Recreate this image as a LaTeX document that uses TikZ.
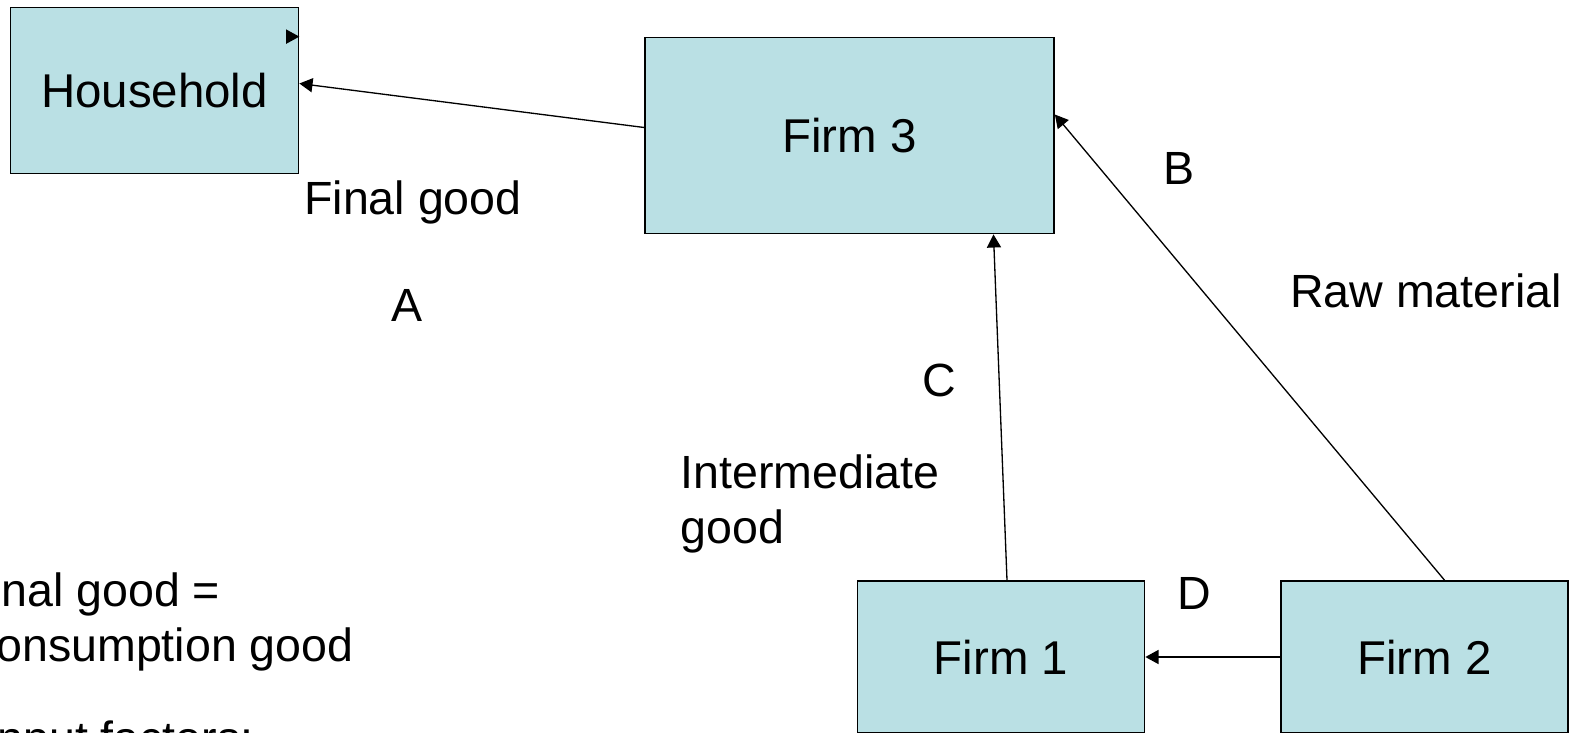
\documentclass[tikz,border=0pt]{standalone}
\usepackage{fontspec}
\setmainfont{Liberation Sans}
\usetikzlibrary{arrows.meta}
\definecolor{boxfill}{RGB}{186,224,228}
\tikzset{
  firmbox/.style={draw=black, line width=1pt, fill=boxfill, inner sep=0pt,
    font=\fontsize{27}{31}\selectfont},
  flow/.style={draw=black, line width=0.75pt,
    -{Triangle[length=7.5pt,width=8pt]}},
  lbl/.style={inner sep=0pt, anchor=base, font=\fontsize{26.5}{31}\selectfont},
  lblw/.style={lbl, anchor=base west, align=left}
}
\begin{document}
\begin{tikzpicture}[x=0.02cm, y=-0.02cm]
  \useasboundingbox (0,0) rectangle (1573,733);
  \clip (0,0) rectangle (1573,733);

  % boxes
  \node[firmbox, minimum width=5.76cm, minimum height=3.32cm] (hh) at (154.5,90.5) {Household};
  \node[firmbox, minimum width=8.18cm, minimum height=3.92cm] (f3) at (849.5,135.5) {Firm 3};
  \node[firmbox, minimum width=5.74cm, minimum height=3.04cm] (f1) at (1001,657) {Firm 1};
  \node[firmbox, minimum width=5.74cm, minimum height=3.04cm] (f2) at (1424.5,657) {Firm 2};

  % flows of goods
  \draw[flow] ([yshift=0.16cm]f3.west) -- ([yshift=0.14cm]hh.east);
  \draw[flow] ([xshift=0.12cm]f1.north) -- ([xshift=2.88cm]f3.south);
  \draw[flow] ([xshift=0.40cm]f2.north) -- ([yshift=0.42cm]f3.east);
  \draw[flow] (f2.west) -- (f1.east);

  % small marker tip on the household box
  \coordinate (mkend) at ([yshift=-0.60cm]hh.north east);
  \coordinate (mkstart) at ([xshift=-0.26cm]mkend);
  \draw[flow] (mkstart) -- (mkend);

  % labels
  \node[lbl] (lfinal) at (413,215) {Final good};
  \node[lbl] (la) at (407,322) {A};
  \node[lbl] (lb) at (1179,185) {B};
  \node[lbl] (lraw) at (1426,308) {Raw material};
  \node[lbl] (lc) at (939,397) {C};
  \node[lblw] (linter) at (680,543) {Intermediate\\good};
  \node[lbl] (ld) at (1194,609) {D};

  % note at lower left
  \node[lblw] (n1) at (1,606) {nal good =};
  \node[lblw] (n2) at (-4,661) {onsumption good};
  \node[lblw] (n3) at (-3,754) {nput factors:};
\end{tikzpicture}
\end{document}
